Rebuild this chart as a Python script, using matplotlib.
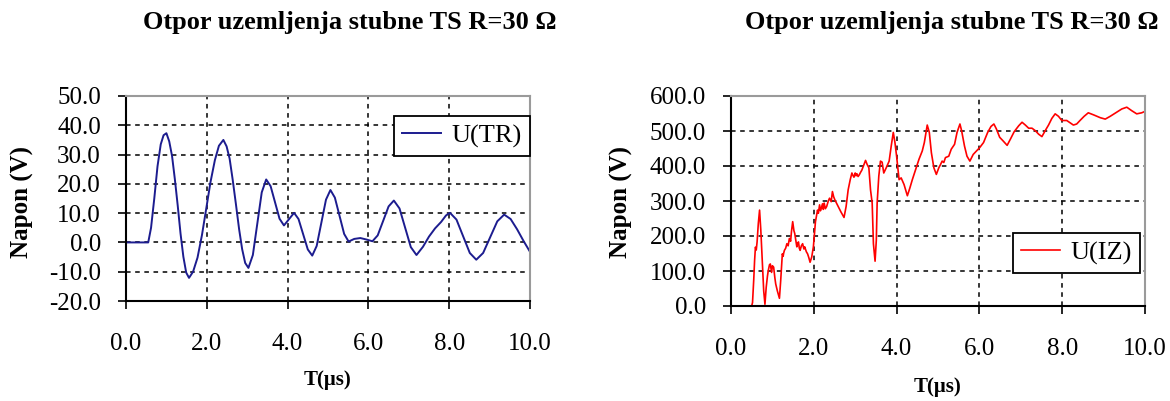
import matplotlib
matplotlib.use("Agg")
import matplotlib.pyplot as plt

# ---------------- data ----------------
title_text = "Otpor uzemljenja stubne TS R=30 Ω"
ylabel_text = "Napon (V)"
xlabel_text = "T(μs)"
x_ticks = [0.0, 2.0, 4.0, 6.0, 8.0, 10.0]
left_y_ticks = [-20.0, -10.0, 0.0, 10.0, 20.0, 30.0, 40.0, 50.0]
right_y_ticks = [0.0, 100.0, 200.0, 300.0, 400.0, 500.0, 600.0]

tr_label = "U(TR)"
t_tr = [0.0, 0.5, 0.55, 0.62, 0.70, 0.78, 0.86, 0.93, 1.0,
        1.07, 1.14, 1.21, 1.28, 1.35, 1.42, 1.49, 1.56,
        1.66, 1.77, 1.88, 1.985, 2.09, 2.20, 2.30, 2.41,
        2.49, 2.565, 2.64, 2.72, 2.80, 2.875, 2.95, 3.03,
        3.14, 3.25, 3.36, 3.47,
        3.58, 3.69, 3.80, 3.91, 4.035, 4.16,
        4.27, 4.385, 4.50, 4.61, 4.72, 4.835, 4.95, 5.06,
        5.17, 5.285, 5.40, 5.51, 5.65, 5.80, 5.95, 6.10,
        6.23, 6.365, 6.50, 6.63, 6.77, 6.91, 7.05, 7.19,
        7.35, 7.50, 7.65, 7.80, 7.92, 8.02,
        8.18, 8.345, 8.51, 8.67, 8.84, 9.015, 9.19, 9.36,
        9.52, 9.68, 9.84, 10.0]
v_tr = [0.0, 0.0, 0.0, 5.0, 15.0, 26.0, 33.5, 36.6, 37.3,
        34.5, 29.5, 21.5, 12.6, 3.0, -4.9, -10.3, -12.1,
        -10.0, -5.2, 2.5, 11.45, 20.5, 28.1, 33.0, 35.0,
        32.8, 28.6, 21.5, 13.15, 4.5, -2.3, -7.0, -8.7,
        -4.3, 6.4, 17.1, 21.5,
        19.2, 13.65, 8.1, 5.8, 7.95, 10.1,
        8.0, 2.8, -2.4, -4.5, -1.2, 6.7, 14.6, 17.9,
        15.3, 9.1, 2.9, 0.3, 1.2, 1.5, 1.0, 0.4,
        2.4, 7.35, 12.3, 14.3, 11.6, 5.0, -1.6, -4.3,
        -1.5, 2.0, 4.8, 7.0, 9.2, 10.1,
        7.8, 2.1, -3.6, -5.9, -3.6, 1.8, 7.2, 9.5,
        8.0, 4.5, 0.5, -3.2]

iz_label = "U(IZ)"
t_iz = [0.50, 0.52, 0.55, 0.57, 0.59, 0.61, 0.63, 0.66, 0.69, 0.72, 0.75, 0.79, 0.82,
        0.85, 0.88, 0.90, 0.93, 0.95, 0.98, 1.00, 1.03, 1.06, 1.08, 1.12, 1.17, 1.20,
        1.24, 1.26, 1.27, 1.29, 1.32, 1.35, 1.38, 1.41, 1.44, 1.46, 1.49, 1.52, 1.54,
        1.57, 1.59, 1.61, 1.63, 1.65, 1.67, 1.70, 1.73, 1.76, 1.78, 1.82, 1.85, 1.88,
        1.91, 1.95, 1.99, 2.04, 2.09, 2.11, 2.14, 2.16, 2.18, 2.21, 2.23, 2.25, 2.28,
        2.31, 2.35, 2.38, 2.42, 2.45, 2.48, 2.51, 2.57, 2.65, 2.73, 2.78, 2.83, 2.88,
        2.92, 2.95, 2.97, 3.00, 3.02, 3.04, 3.07, 3.10, 3.13, 3.16, 3.21, 3.25, 3.29,
        3.33, 3.37, 3.41, 3.44, 3.48, 3.51, 3.53, 3.57, 3.61, 3.65, 3.69, 3.75,
        3.82, 3.87, 3.92, 3.96, 4.00, 4.06, 4.11, 4.18, 4.26, 4.32, 4.38,
        4.46, 4.54, 4.62, 4.67, 4.74, 4.79, 4.84, 4.90, 4.96, 5.02, 5.06, 5.10,
        5.14, 5.18, 5.26, 5.32, 5.40, 5.46, 5.53, 5.57, 5.64, 5.70, 5.77, 5.85,
        5.93, 6.01, 6.10, 6.20, 6.28, 6.35, 6.41, 6.49, 6.57, 6.67, 6.75,
        6.84, 6.95, 7.03, 7.11, 7.19, 7.27, 7.35, 7.43, 7.51, 7.59, 7.67,
        7.75, 7.83, 7.91, 7.99, 8.11, 8.27, 8.35, 8.43, 8.53, 8.63, 8.76,
        8.92, 9.04, 9.16, 9.32, 9.44, 9.56, 9.68, 9.80, 9.92, 10.0]
v_iz = [0.0, 10.0, 77.0, 130.0, 168.0, 160.0, 183.0, 236.0, 274.0, 217.0, 140.0, 43.0, 5.0,
        53.0, 85.0, 101.0, 118.0, 120.0, 96.0, 115.0, 111.0, 80.0, 63.0, 43.0, 22.0, 72.0,
        149.0, 142.0, 150.0, 159.0, 165.0, 178.0, 172.0, 193.0, 185.0, 212.0, 241.0, 215.0, 207.0,
        185.0, 169.0, 180.0, 183.0, 165.0, 159.0, 172.0, 178.0, 163.0, 169.0, 155.0, 149.0, 138.0,
        125.0, 140.0, 169.0, 241.0, 274.0, 265.0, 289.0, 272.0, 279.0, 292.0, 276.0, 294.0, 278.0,
        284.0, 300.0, 308.0, 298.0, 327.0, 312.0, 303.0, 289.0, 270.0, 253.0, 284.0, 332.0, 361.0,
        380.0, 372.0, 368.0, 380.0, 372.0, 378.0, 370.0, 375.0, 382.0, 388.0, 404.0, 416.0, 404.0,
        395.0, 332.0, 294.0, 178.0, 128.0, 188.0, 294.0, 371.0, 414.0, 411.0, 380.0, 395.0,
        414.0, 457.0, 496.0, 467.0, 428.0, 361.0, 366.0, 347.0, 315.0, 337.0, 361.0,
        390.0, 419.0, 443.0, 467.0, 517.0, 496.0, 438.0, 395.0, 376.0, 395.0, 404.0, 414.0,
        410.0, 424.0, 428.0, 448.0, 462.0, 496.0, 520.0, 501.0, 457.0, 428.0, 414.0, 433.0,
        443.0, 453.0, 467.0, 496.0, 513.0, 520.0, 506.0, 482.0, 472.0, 459.0, 477.0,
        498.0, 515.0, 525.0, 517.0, 508.0, 508.0, 501.0, 491.0, 484.0, 501.0, 517.0,
        536.0, 549.0, 542.0, 530.0, 530.0, 517.0, 520.0, 530.0, 542.0, 552.0, 546.0,
        538.0, 534.0, 542.0, 554.0, 563.0, 568.0, 558.0, 549.0, 552.0, 556.0]

# ---------------- figure ----------------
W, H = 1170, 401
fig = plt.figure(figsize=(W / 100, H / 100), dpi=100)
fig.patch.set_facecolor("white")

SERIF = ["Liberation Serif", "DejaVu Serif"]


def box(x0, y0, x1, y1):
    return [x0 / W, 1 - y1 / H, (x1 - x0) / W, (y1 - y0) / H]


ax1 = fig.add_axes(box(126, 96, 530, 301))
ax2 = fig.add_axes(box(731, 96, 1145, 306))


def style(ax, yticks, ylim):
    ax.set_xlim(0, 10)
    ax.set_ylim(*ylim)
    ax.set_xticks(x_ticks)
    ax.set_yticks(yticks)
    ax.set_xticklabels([f"{v:.1f}" for v in x_ticks], fontfamily=SERIF, fontsize=18)
    ax.set_yticklabels([f"{v:.1f}" for v in yticks], fontfamily=SERIF, fontsize=18)
    ax.tick_params(axis="x", direction="out", length=6, width=1.2, pad=17, colors="black")
    ax.tick_params(axis="y", direction="out", length=6, width=1.2, pad=12, colors="black")
    ax.grid(True, color="black", linestyle=(0, (3, 3)), linewidth=1.1)
    ax.set_axisbelow(True)
    for s in ("left", "bottom"):
        ax.spines[s].set_color("black")
        ax.spines[s].set_linewidth(1.5)
    for s in ("top", "right"):
        ax.spines[s].set_color("#9a9a9a")
        ax.spines[s].set_linewidth(1.5)


style(ax1, left_y_ticks, (-20, 50))
style(ax2, right_y_ticks, (0, 600))

ax1.plot(t_tr, v_tr, color="#1c1c8f", linewidth=1.4, label=tr_label)
ax2.plot(t_iz, v_iz, color="#ff0000", linewidth=1.2, label=iz_label)

leg_kw = dict(prop={"family": SERIF, "size": 19}, frameon=True, fancybox=False,
              edgecolor="black", handlelength=1.5, handletextpad=0.4,
              borderpad=0.3, borderaxespad=0.0)
l1 = ax1.legend(loc="upper right", bbox_to_anchor=(1.0, 0.902), **leg_kw)
l2 = ax2.legend(loc="lower right", bbox_to_anchor=(0.988, 0.157), **leg_kw)
for lg in (l1, l2):
    lg.get_frame().set_linewidth(1.3)
    lg.get_frame().set_alpha(1)

# titles and labels
for cx in (350, 952):
    fig.text(cx / W, 1 - 23 / H, title_text, ha="center", va="center",
             fontfamily=SERIF, fontweight="bold", fontsize=19)
for cx in (22, 621):
    fig.text(cx / W, 1 - 202 / H, ylabel_text, ha="center", va="center", rotation=90,
             fontfamily=SERIF, fontweight="bold", fontsize=18)
for cx, cy in ((327, 380), (938, 387)):
    fig.text(cx / W, 1 - cy / H, xlabel_text, ha="center", va="center",
             fontfamily=SERIF, fontweight="bold", fontsize=15)

fig.savefig("out.png", dpi=100)
